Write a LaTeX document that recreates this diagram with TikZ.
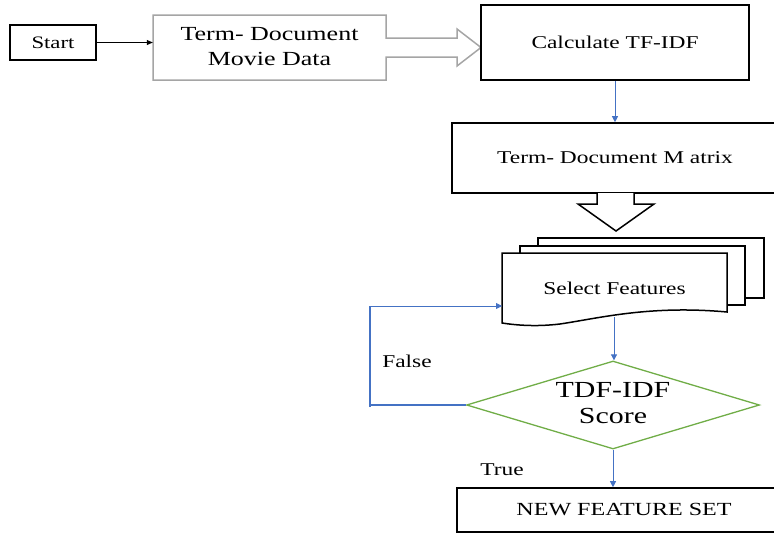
\documentclass[tikz,border=0pt]{standalone}
\usepackage{fontspec}
\setmainfont{Liberation Serif}
\usetikzlibrary{shapes.geometric,arrows.meta}
\newcommand\sx[1]{\scalebox{1.3}[1]{#1}}
\definecolor{flowblue}{HTML}{4472C4}
\definecolor{flowgreen}{HTML}{70AD47}
\definecolor{flowgray}{HTML}{A5A5A5}
\begin{document}
\begin{tikzpicture}[x=1pt,y=-1pt,
  blackbox/.style={draw=black,line width=1.6pt,fill=white,inner sep=0pt},
  plain/.style={inner sep=0pt},
  bluearr/.style={draw=flowblue,line width=0.8pt,-{Triangle[length=6pt,width=6pt]}},
  blackarr/.style={draw=black,line width=0.7pt,-{Triangle[length=6pt,width=5pt]}},
  txt/.style={font=\fontsize{18}{22}\selectfont}]
\useasboundingbox (0,0) rectangle (774,533);

% Start
\node[blackbox,txt,font=\fontsize{17.5}{21}\selectfont,minimum width=86pt,minimum height=35pt] (start) at (53,42.5) {\sx{Start}};

% Term-Document Movie Data (gray box with block arrow)
\node[plain,minimum width=233pt,minimum height=65pt] (movie) at (269.5,47.5)
  {\fontsize{20}{25}\selectfont\sx{\begin{tabular}{@{}c@{}}Term- Document\\Movie Data\end{tabular}}};
\draw[flowgray,line width=1.5pt,line join=miter]
  (153,15) -- (386,15) -- (386,38) -- (457,38) -- (457,29) -- (481,47.5)
  -- (457,66) -- (457,57) -- (386,57) -- (386,80) -- (153,80) -- cycle;
\draw[blackarr] (start.east) -- (start.east -| movie.west);

% Calculate TF-IDF
\node[blackbox,txt,minimum width=268pt,minimum height=75pt] (calc) at (615,42.5) {\sx{Calculate TF-IDF}};

% Term-Document Matrix
\node[blackbox,txt,minimum width=326pt,minimum height=70pt] (matrix) at (615,158) {\sx{Term- Document M atrix}};
\draw[bluearr] (calc.south) -- (matrix.north);
\draw[black,line width=1.5pt,fill=white,line join=miter]
  (597,193) -- (597,204) -- (578,204) -- (616,231) -- (654,204) -- (634,204) -- (634,193);

% Multi-document Select Features
\draw[black,line width=1.5pt,fill=white] (538,238) rectangle (764,298);
\draw[black,line width=1.5pt,fill=white] (520,246) rectangle (745,305);
\draw[black,line width=1.5pt,fill=white,line join=miter]
  (502,253) -- (727,253) -- (727,312) .. controls (650,305) and (600,318) .. (560,324)
  .. controls (535,327) and (515,325) .. (502,323) -- cycle;
\node[plain,txt] (sel) at (614.5,288) {\sx{Select Features}};
\coordinate (selw) at (502,306);
\coordinate (selb) at (614,317);

% Decision
\node[draw=flowgreen,line width=1.3pt,shape=diamond,aspect=3.33,minimum width=293pt,minimum height=88pt,inner sep=0pt] (dia) at (613,405)
  {\fontsize{23}{26}\selectfont\sx{\begin{tabular}{@{}c@{}}TDF-IDF\\Score\end{tabular}}};
\draw[bluearr] (selb) -- (selb |- dia.north);

% False loop
\coordinate (fl) at (370,405);
\coordinate (ft) at (370,306);
\draw[flowblue,line width=1.6pt] (dia.west) -- (fl);
\draw[flowblue,line width=1.6pt] (370,407) -- (ft);
\draw[bluearr] (ft) -- (selw);
\node[plain,txt] (false) at (407,361) {\sx{False}};

% New feature set
\node[blackbox,txt,font=\fontsize{18.5}{22}\selectfont,minimum width=334pt,minimum height=44pt] (nfs) at (624,510) {\sx{NEW FEATURE SET}};
\draw[bluearr] (dia.south) -- (dia.south |- nfs.north);
\node[plain,txt] (true) at (502,470) {\sx{True}};
\end{tikzpicture}
\end{document}
